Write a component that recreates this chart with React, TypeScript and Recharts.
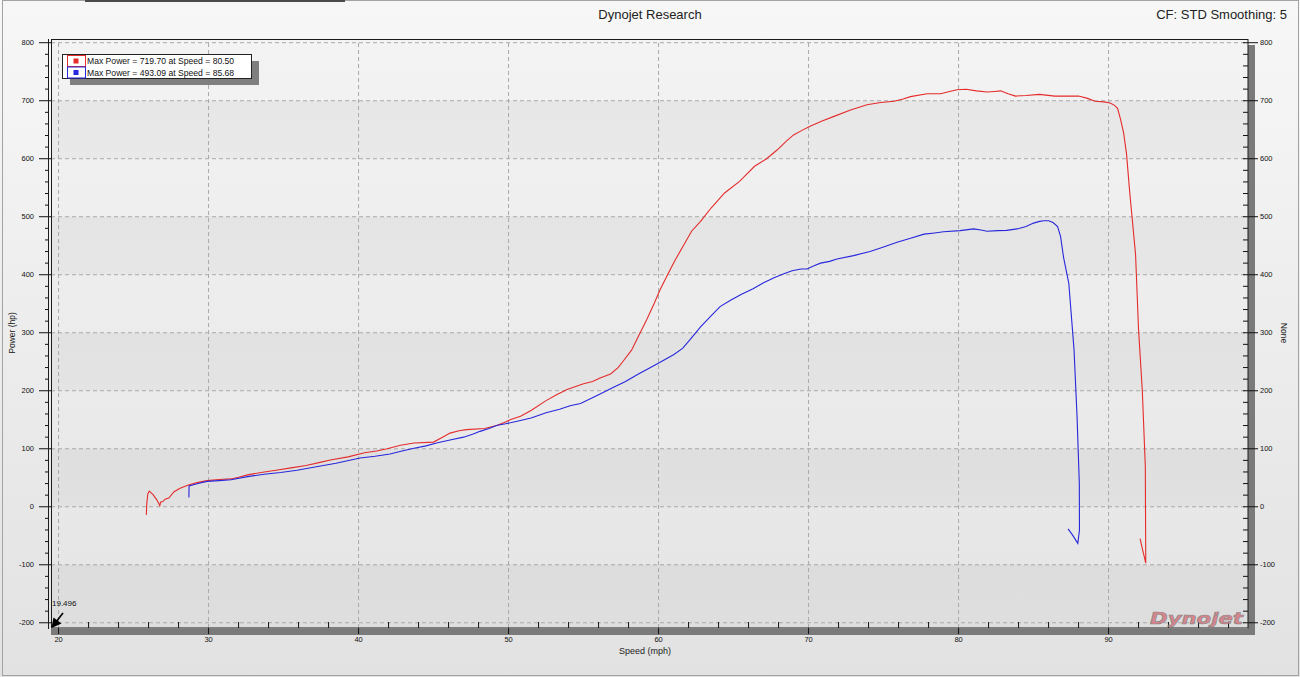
import React from 'react';
import { LineChart, Line, XAxis, YAxis, ReferenceArea, ReferenceLine } from 'recharts';

const FONT = '"Liberation Sans", Arial, sans-serif';

const redSpeed = [25.85, 25.88, 25.95, 26.05, 26.3, 26.55, 26.75, 26.8, 26.95, 27.1, 27.35, 27.7, 28.1, 28.7, 29.3, 29.9, 30.7, 31.5, 32.0, 32.6, 33.5, 34.5, 35.5, 36.5, 37.5, 38.2, 39.3, 40.4, 41.2, 41.9, 42.8, 43.7, 45.0, 45.6, 46.1, 46.7, 47.2, 48.4, 49.2, 49.8, 50.1, 50.8, 51.5, 52.5, 53.2, 53.9, 55.0, 55.6, 56.1, 56.8, 57.3, 57.7, 58.2, 58.7, 59.2, 59.7, 60.1, 60.6, 61.1, 61.7, 62.2, 62.8, 63.5, 64.4, 65.4, 66.4, 67.2, 67.9, 68.5, 69.0, 69.5, 70.1, 70.9, 71.7, 72.8, 73.9, 74.8, 75.7, 76.3, 76.8, 77.9, 78.8, 79.4, 79.9, 80.5, 81.2, 81.9, 82.4, 82.8, 83.3, 83.8, 84.5, 85.4, 86.4, 87.2, 88.0, 88.6, 89.1, 89.7, 90.1, 90.4, 90.6, 90.8, 91.0, 91.2, 91.4, 91.6, 91.8, 92.0, 92.25, 92.45, 92.47, 92.48, 92.24, 92.1];
const redPower = [-14, 5, 22, 27, 21, 12, 2, 8, 9, 13, 15, 26, 32, 38, 42, 45, 47, 48, 51, 55, 59, 63, 67, 71, 77, 81, 86, 93, 96, 100, 106, 110, 111.5, 120, 127, 131, 133, 135, 140, 146, 150, 156, 166, 183, 193, 202, 212, 216, 222, 229, 240, 253, 270, 296, 322, 350, 374, 400, 425, 452, 475, 492, 515, 541, 561, 587, 600, 615, 630, 641, 648, 656, 665, 673, 684, 693, 697, 699, 703, 707, 712, 712, 716, 719, 719.7, 717, 715, 716, 717, 712, 708, 709, 711, 708, 708, 708, 704, 699, 698, 696, 692, 687, 668, 645, 608, 545, 490, 435, 305, 200, 70, -45, -97, -71, -55];

const blueSpeed = [28.69, 28.7, 29.3, 29.9, 30.7, 31.5, 32.6, 33.7, 34.8, 35.9, 37.0, 38.5, 40.1, 41.1, 42.1, 42.9, 43.7, 44.5, 45.2, 46.1, 47.0, 47.6, 48.1, 48.7, 49.2, 49.8, 50.5, 51.5, 52.5, 53.4, 54.1, 54.8, 55.9, 57.0, 57.8, 58.6, 59.8, 61.0, 61.6, 62.1, 62.8, 63.5, 64.1, 64.8, 65.5, 66.3, 67.0, 67.7, 68.4, 68.9, 69.5, 69.9, 70.4, 70.8, 71.4, 71.9, 73.0, 74.1, 75.0, 75.9, 76.8, 77.7, 78.4, 79.0, 80.1, 81.0, 81.5, 81.9, 82.6, 83.2, 83.9, 84.5, 85.0, 85.4, 85.68, 86.0, 86.3, 86.6, 86.8, 87.0, 87.35, 87.7, 87.9, 88.05, 88.06, 87.95, 87.58, 87.3];
const bluePower = [16, 36, 40, 43.7, 45, 46.6, 52, 56, 59, 63, 68, 75, 84, 87, 91, 96, 101, 105, 110, 115, 120, 125, 130, 135, 140, 143, 147, 153, 162, 168, 174, 178, 192, 206, 216, 228, 245, 262, 273, 288, 310, 329, 345, 356, 366, 376, 386, 395, 402, 407, 410, 410, 416, 420, 423, 427, 433, 440, 448, 456, 463, 470, 472, 474, 476, 479, 477, 475, 476, 476.5, 479, 483, 489, 492, 493.09, 493, 490, 483, 466, 430, 385, 270, 155, 40, -40, -63, -48, -38];

const xMajor = [20, 30, 40, 50, 60, 70, 80, 90];
const xTicks = [20, 22, 24, 26, 28, 30, 32, 34, 36, 38, 40, 42, 44, 46, 48, 50, 52, 54, 56, 58, 60, 62, 64, 66, 68, 70, 72, 74, 76, 78, 80, 82, 84, 86, 88, 90, 92, 94, 96, 98];
const yMajor = [-200, -100, 0, 100, 200, 300, 400, 500, 600, 700, 800];
const yTicks = [-200, -180, -160, -140, -120, -100, -80, -60, -40, -20, 0, 20, 40, 60, 80, 100, 120, 140, 160, 180, 200, 220, 240, 260, 280, 300, 320, 340, 360, 380, 400, 420, 440, 460, 480, 500, 520, 540, 560, 580, 600, 620, 640, 660, 680, 700, 720, 740, 760, 780, 800];
const X_DOMAIN: [number, number] = [19.496, 99.296];
const Y_DOMAIN: [number, number] = [-209, 806.4];
const darkBands: [number, number][] = [[600, 700], [400, 500], [200, 300], [0, 100], [-209, -100]];

const legendItems = [
  { label: 'Max Power = 719.70 at Speed = 80.50', color: '#e52b2b' },
  { label: 'Max Power = 493.09 at Speed = 85.68', color: '#2727dc' },
];

function LeftTick(props: any) {
  const { x, y, payload } = props;
  const v = payload.value;
  const major = v % 100 === 0;
  return (
    <g>
      {major ? (
        <line x1={x - 12} x2={x + 1} y1={y} y2={y} stroke="#111" strokeWidth={1} />
      ) : (
        <line x1={x - 6} x2={x - 2} y1={y} y2={y} stroke="#111" strokeWidth={1} />
      )}
      {major && (
        <text x={x - 17} y={y} dy="0.35em" textAnchor="end" fontSize={7.5} fontFamily={FONT} fill="#111">
          {v}
        </text>
      )}
    </g>
  );
}

function RightTick(props: any) {
  const { x, y, payload } = props;
  const v = payload.value;
  const major = v % 100 === 0;
  return (
    <g>
      {major ? (
        <line x1={x - 5} x2={x + 10} y1={y} y2={y} stroke="#111" strokeWidth={1} />
      ) : (
        <line x1={x - 5} x2={x} y1={y} y2={y} stroke="#111" strokeWidth={1} />
      )}
      {major && (
        <text x={x + 12} y={y} dy="0.35em" textAnchor="start" fontSize={7.5} fontFamily={FONT} fill="#111">
          {v}
        </text>
      )}
    </g>
  );
}

function BottomTick(props: any) {
  const { x, y, payload } = props;
  const v = payload.value;
  const major = v % 10 === 0;
  return (
    <g>
      {major ? (
        <line x1={x} x2={x} y1={y} y2={y + 6} stroke="#111" strokeWidth={1} />
      ) : (
        <line x1={x} x2={x} y1={y - 6} y2={y} stroke="#111" strokeWidth={1} />
      )}
      {major && (
        <text x={x} y={y + 11} dy="0.35em" textAnchor="middle" fontSize={7.5} fontFamily={FONT} fill="#111">
          {v}
        </text>
      )}
    </g>
  );
}

export default function App() {
  const redData = redSpeed.map((s, i) => ({ speed: s, power: redPower[i] }));
  const blueData = blueSpeed.map((s, i) => ({ speed: s, power: bluePower[i] }));
  return (
    <div
      style={{
        position: 'absolute',
        left: 0,
        top: 0,
        width: 1300,
        height: 677,
        overflow: 'hidden',
        background: 'linear-gradient(#f7f7f7, #e2e2e2)',
        fontFamily: FONT,
      }}
    >
      <div style={{ position: 'absolute', left: 2, top: 0, width: 1295, height: 674, border: '1px solid #a3a3a3' }} />
      <div style={{ position: 'absolute', left: 85, top: 0, width: 260, height: 2, background: '#4a4a4a' }} />
      <div style={{ position: 'absolute', left: 51, top: 629, width: 1204, height: 6, background: '#7a7a7a' }} />
      <div style={{ position: 'absolute', left: 1248, top: 45, width: 7, height: 590, background: '#7a7a7a' }} />
      <div style={{ position: 'absolute', left: 0, top: 0 }}>
        <LineChart width={1300} height={677} margin={{ top: 39, right: 0, bottom: 0, left: 0 }}>
          <defs>
            <linearGradient id="plotBase" x1="0" y1="0" x2="0" y2="1">
              <stop offset="0%" stopColor="#f3f3f3" />
              <stop offset="100%" stopColor="#e5e5e5" />
            </linearGradient>
            <linearGradient id="darkBand" x1="0" y1="0" x2="0" y2="1">
              <stop offset="0%" stopColor="#000" stopOpacity={0.045} />
              <stop offset="100%" stopColor="#000" stopOpacity={0.03} />
            </linearGradient>
          </defs>
          <XAxis
            type="number"
            dataKey="speed"
            domain={X_DOMAIN}
            allowDataOverflow
            ticks={xTicks}
            interval={0}
            height={49}
            tickSize={0}
            tickMargin={0}
            tickLine={false}
            axisLine={false}
            tick={(p: any) => <BottomTick {...p} />}
          />
          <YAxis
            yAxisId="l"
            type="number"
            domain={Y_DOMAIN}
            allowDataOverflow
            ticks={yTicks}
            interval={0}
            width={51}
            tickSize={0}
            tickMargin={0}
            tickLine={false}
            axisLine={false}
            tick={(p: any) => <LeftTick {...p} />}
          />
          <YAxis
            yAxisId="r"
            orientation="right"
            type="number"
            domain={Y_DOMAIN}
            allowDataOverflow
            ticks={yTicks}
            interval={0}
            width={52}
            tickSize={0}
            tickMargin={0}
            tickLine={false}
            axisLine={false}
            tick={(p: any) => <RightTick {...p} />}
          />
          <ReferenceArea yAxisId="l" y1={Y_DOMAIN[0]} y2={Y_DOMAIN[1]} fill="url(#plotBase)" fillOpacity={1} stroke="none" />
          {darkBands.map(([a, b], i) => (
            <ReferenceArea key={'b' + i} yAxisId="l" y1={a} y2={b} fill="url(#darkBand)" fillOpacity={1} stroke="none" />
          ))}
          {yMajor.map((v) => (
            <ReferenceLine key={'gy' + v} yAxisId="l" y={v} stroke="#a9a9a9" strokeDasharray="4 3" />
          ))}
          {xMajor.map((v) => (
            <ReferenceLine key={'gx' + v} yAxisId="l" x={v} stroke="#a9a9a9" strokeDasharray="4 3" />
          ))}
          <Line
            yAxisId="l"
            data={redData}
            dataKey="power"
            type="linear"
            stroke={legendItems[0].color}
            strokeWidth={1.1}
            dot={false}
            isAnimationActive={false}
          />
          <Line
            yAxisId="l"
            data={blueData}
            dataKey="power"
            type="linear"
            stroke={legendItems[1].color}
            strokeWidth={1.1}
            dot={false}
            isAnimationActive={false}
          />
        </LineChart>
      </div>
      <svg
        width={1300}
        height={677}
        style={{ position: 'absolute', left: 0, top: 0, pointerEvents: 'none' }}
      >
        <rect x={51.5} y={39.5} width={1196.5} height={588.5} fill="none" stroke="#1c1c1c" strokeWidth={1} />
        <line x1={48.5} x2={48.5} y1={39} y2={629} stroke="#1c1c1c" strokeWidth={1} />
        <text x={650} y={14} dy="0.35em" textAnchor="middle" fontSize={13} fontFamily={FONT} fill="#222">
          Dynojet Research
        </text>
        <text x={1287} y={14} dy="0.35em" textAnchor="end" fontSize={13} fontFamily={FONT} fill="#222">
          CF: STD Smoothing: 5
        </text>
        <text
          x={12}
          y={333}
          dy="0.35em"
          textAnchor="middle"
          fontSize={8.5}
          fontFamily={FONT}
          fill="#222"
          transform="rotate(-90 12 333)"
        >
          Power (hp)
        </text>
        <text
          x={1284}
          y={333}
          dy="0.35em"
          textAnchor="middle"
          fontSize={8.5}
          fontFamily={FONT}
          fill="#222"
          transform="rotate(90 1284 333)"
        >
          None
        </text>
        <text x={645} y={651} dy="0.35em" textAnchor="middle" fontSize={9} fontFamily={FONT} fill="#222">
          Speed (mph)
        </text>
        <text x={52} y={603} dy="0.35em" textAnchor="start" fontSize={8} fontFamily={FONT} fill="#111">
          19.496
        </text>
        <line x1={63} y1={613} x2={56} y2={622} stroke="#000" strokeWidth={1.6} />
        <polygon points="51.5,628 53.5,617.5 61.5,623.5" fill="#000" />
        <rect x={70} y={61} width={189} height={24} fill="#7f7f7f" />
        <rect x={62.5} y={54.5} width={189} height={24} fill="#ffffff" stroke="#222" strokeWidth={1} />
        {legendItems.map((it, i) => (
          <g key={'lg' + i}>
            <rect x={67.5} y={55.5 + i * 11.5} width={18} height={11} fill="none" stroke={it.color} strokeWidth={1} />
            <rect x={73.5} y={58.5 + i * 11.5} width={5} height={5} fill={it.color} />
            <text x={87} y={61 + i * 11.5} dy="0.35em" fontSize={8.6} fontFamily={FONT} fill="#111">
              {it.label}
            </text>
          </g>
        ))}
        <text
          x={1150}
          y={624}
          fontSize={16}
          fontWeight="bold"
          fontStyle="italic"
          fontFamily='"DejaVu Sans", sans-serif'
          fill="#d97c86"
          stroke="#7d7d7d"
          strokeWidth={0.6}
          textLength={93}
          lengthAdjust="spacingAndGlyphs"
          opacity={0.9}
        >
          Dynojet
        </text>
      </svg>
    </div>
  );
}
